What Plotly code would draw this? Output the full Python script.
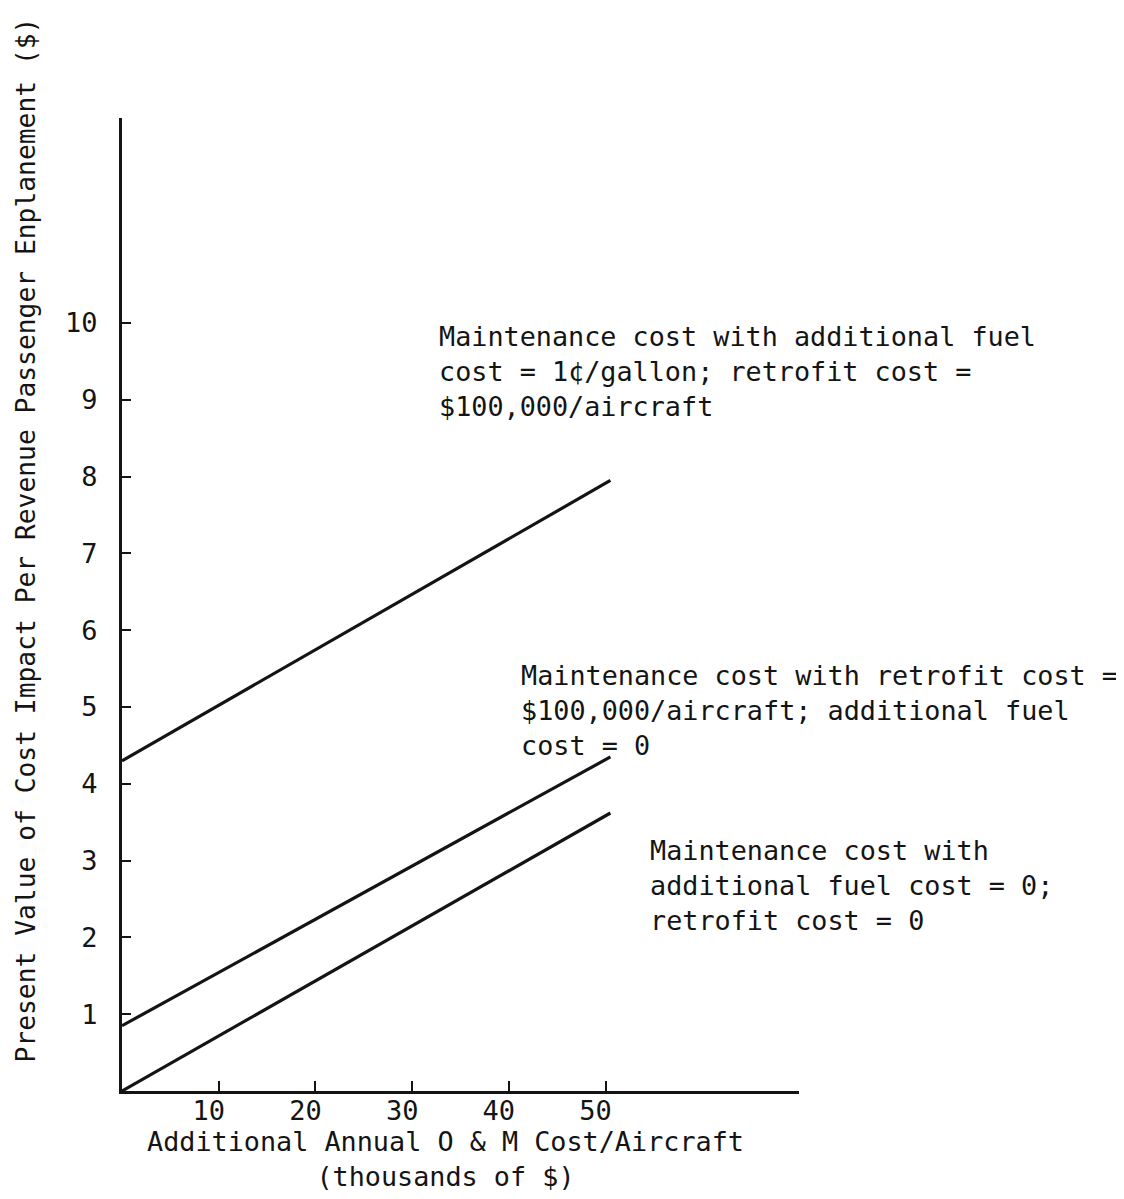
import plotly.graph_objects as go

# Data
x_vals = [0, 50.5]
fuel_retrofit = [4.3, 7.95]       # Maintenance + fuel 1c/gal + retrofit $100,000
retrofit_only = [0.85, 4.35]      # Maintenance + retrofit $100,000
maintenance_only = [0.0, 3.62]    # Maintenance only

x_ticks = [10, 20, 30, 40, 50]
y_ticks = [1, 2, 3, 4, 5, 6, 7, 8, 9, 10]

FONT = "DejaVu Sans Mono"
FS = 26.8
INK = "#141414"

fig = go.Figure()
for ys in (fuel_retrofit, retrofit_only, maintenance_only):
    fig.add_trace(go.Scatter(x=x_vals, y=ys, mode="lines",
                             line=dict(color=INK, width=3.2),
                             showlegend=False, hoverinfo="skip"))

notes = [
    (32.6, 9.375, "Maintenance cost with additional fuel<br>cost = 1¢/gallon; retrofit cost =<br>$100,000/aircraft"),
    (41.0, 4.96, "Maintenance cost with retrofit cost =<br>$100,000/aircraft; additional fuel<br>cost = 0"),
    (54.4, 2.68, "Maintenance cost with<br>additional fuel cost = 0;<br>retrofit cost = 0"),
]
for nx, ny, txt in notes:
    fig.add_annotation(x=nx, y=ny, xref="x", yref="y", text=txt, showarrow=False,
                       xanchor="left", yanchor="middle", align="left",
                       font=dict(family=FONT, size=FS, color=INK))

fig.add_annotation(x=33.4, y=-0.034, xref="x", yref="paper",
                   text="Additional Annual O & M Cost/Aircraft<br>(thousands of $)",
                   showarrow=False, xanchor="center", yanchor="top", align="center",
                   font=dict(family=FONT, size=FS, color=INK))

fig.add_annotation(x=0, y=0.5, xref="paper", yref="paper", xshift=-97, yshift=64,
                   text="Present Value of Cost Impact Per Revenue Passenger Enplanement ($)",
                   textangle=-90, showarrow=False, xanchor="center", yanchor="middle",
                   font=dict(family=FONT, size=26.3, color=INK))

fig.update_layout(
    width=1124, height=1199,
    margin=dict(l=114, r=333, t=110, b=116),
    paper_bgcolor="white", plot_bgcolor="white",
    xaxis=dict(range=[0, 70], tickmode="array", tickvals=x_ticks,
               ticktext=[str(v) for v in x_ticks],
               showgrid=False, zeroline=False, showline=True, linecolor=INK, linewidth=3,
               ticks="inside", ticklen=10, tickwidth=2, tickcolor=INK,
               ticklabelshift=-10, ticklabelstandoff=-6,
               tickfont=dict(family=FONT, size=27, color=INK)),
    yaxis=dict(range=[0, 12.67], tickmode="array", tickvals=y_ticks,
               ticktext=[str(v) for v in y_ticks],
               showgrid=False, zeroline=False, showline=True, linecolor=INK, linewidth=3,
               ticks="inside", ticklen=9, tickwidth=2, tickcolor=INK,
               ticklabelstandoff=16,
               tickfont=dict(family=FONT, size=27, color=INK)),
)

fig.write_html("out.html")
